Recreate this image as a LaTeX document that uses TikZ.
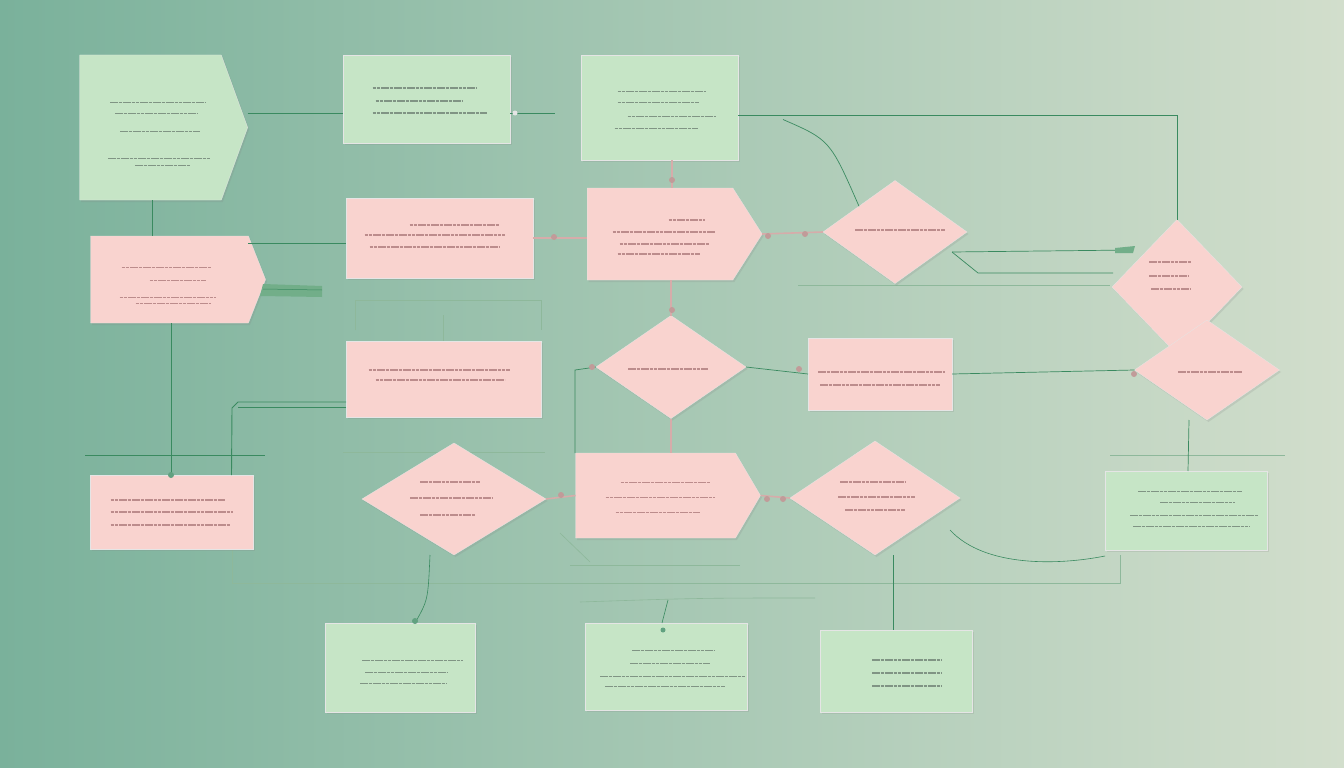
\documentclass[tikz,border=0pt]{standalone}
\usetikzlibrary{shapes.geometric,shapes.symbols,shadows,calc}
\definecolor{bgL}{RGB}{122,177,155}
\definecolor{bgR}{RGB}{210,222,204}
\definecolor{mint}{RGB}{198,229,198}
\definecolor{blush}{RGB}{249,211,207}
\definecolor{wire}{RGB}{58,138,96}
\definecolor{pwire}{RGB}{214,172,170}
\definecolor{gtxt}{RGB}{128,148,132}
\definecolor{ptxt}{RGB}{188,140,140}
\newcommand{\scrib}[4]{\foreach \yy/\aa/\bb in {#4} {\draw[#2] ($(#1.center)+({\aa+#3},\yy)$) -- ($(#1.center)+({\bb+#3},\yy)$);}}
\begin{document}
\begin{tikzpicture}[x=1pt,y=-1pt,
  card/.style={inner sep=0pt, outer sep=0pt, draw=black!10, line width=0.3pt,
     drop shadow={opacity=0.18, shadow xshift=1.5pt, shadow yshift=-2pt}},
  gbox/.style={card, fill=mint, rectangle},
  pbox/.style={card, fill=blush, rectangle},
  gsig/.style={card, fill=mint, signal, signal to=east},
  psig/.style={card, fill=blush, signal, signal to=east},
  pdia/.style={card, fill=blush, diamond},
  link/.style={draw=wire, line width=0.9pt},
  faint/.style={draw=wire!45!bgR, line width=0.6pt},
  plink/.style={draw=pwire, line width=1.6pt},
  bead/.style={circle, fill=pwire!90!black, draw=none, inner sep=0pt, minimum size=6pt},
  gbead/.style={circle, fill=wire!80, draw=none, inner sep=0pt, minimum size=6pt},
  gt/.style={draw=gtxt, line width=1.4pt, dash pattern=on 3.6pt off 0.7pt},
  pt/.style={draw=ptxt, line width=1.4pt, dash pattern=on 3.6pt off 0.7pt}]
\useasboundingbox (0,0) rectangle (1344,768);
\shade[left color=bgL, right color=bgR] (0,0) rectangle (1344,768);

% faint background guide lines
\draw[faint] (355,330) -- (355,300) -- (541,300) -- (541,330);
\draw[faint] (443,315) -- (443,341);
\draw[faint] (343,452) -- (545,452);
\draw[faint] (232,550) -- (232,583) -- (1120,583) -- (1120,555);
\draw[faint] (798,285) -- (1110,285);
\draw[faint] (1110,455) -- (1285,455);
\draw[faint] (560,533) -- (590,562);
\draw[faint] (570,565) -- (740,565);
\draw[faint] (598,208) -- (598,192) -- (672,192);
\draw[faint] (580,602) .. controls (700,598) .. (815,598);

% nodes
\node[gsig, minimum width=168pt, minimum height=145pt, signal pointer angle=140] (g1) at (150.5,127.5) {};
\node[gbox, minimum width=167pt, minimum height=88pt] (g2) at (426.5,99) {};
\node[gbox, minimum width=157pt, minimum height=105pt] (g3) at (659.5,107.5) {};
\node[psig, minimum width=175pt, minimum height=87pt, signal pointer angle=137] (p1) at (169.5,279.5) {};
\node[pbox, minimum width=187pt, minimum height=80pt] (p2) at (439.5,238) {};
\node[psig, minimum width=175pt, minimum height=92pt, signal pointer angle=115] (p3) at (660,234) {};
\node[pdia, minimum width=144pt, minimum height=103pt] (d1) at (895,232) {};
\node[pdia, minimum width=130pt, minimum height=135pt] (d5) at (1177,287) {};
\node[pdia, minimum width=145pt, minimum height=100pt] (d6) at (1207,370) {};
\node[pbox, minimum width=195pt, minimum height=76pt] (p4) at (443.5,379) {};
\node[pdia, minimum width=150pt, minimum height=103pt] (d2) at (671,367) {};
\node[pbox, minimum width=144pt, minimum height=72pt] (p5) at (880,374) {};
\node[pdia, minimum width=184pt, minimum height=112pt] (d3) at (454,499) {};
\node[psig, minimum width=185pt, minimum height=85pt, signal pointer angle=119] (p6) at (655.5,495.5) {};
\node[pdia, minimum width=170pt, minimum height=114pt] (d4) at (875,498) {};
\node[pbox, minimum width=163pt, minimum height=74pt] (p7) at (171.5,512) {};
\node[gbox, minimum width=162pt, minimum height=79pt] (g4) at (1186,510.5) {};
\node[gbox, minimum width=150pt, minimum height=89pt] (g5) at (400,667.5) {};
\node[gbox, minimum width=162pt, minimum height=87pt] (g6) at (666,666.5) {};
\node[gbox, minimum width=152pt, minimum height=82pt] (g7) at (896,671) {};

% illegible text, drawn as scribble lines
\scrib{g1}{gt}{13.5}{-25/-54/41, -14/-49/34, 4/-44/36, 31/-56/46, 38/-29/26}
\scrib{g2}{gt}{0}{-11/-54/50, 2/-51/36, 14/-54/60}
\scrib{g3}{gt}{0}{-16/-42/46, -5/-42/39, 9/-32/56, 21/-45/38}
\scrib{p1}{pt}{8}{-12/-56/33, 1/-28/28, 18/-58/38, 24/-42/33}
\scrib{p2}{pt}{0}{-13/-30/60, -3/-75/65, 9/-70/60}
\scrib{p3}{pt}{14.5}{-14/-6/30, -2/-62/40, 10/-55/35, 20/-57/25}
\scrib{d1}{pt}{0}{-2/-40/50}
\scrib{d5}{pt}{0}{-25/-28/14, -11/-28/12, 2/-26/14}
\scrib{d6}{pt}{0}{2/-29/35}
\scrib{p4}{pt}{0}{-9/-75/66, 1/-68/61}
\scrib{d2}{pt}{0}{2/-43/37}
\scrib{p5}{pt}{0}{-2/-62/65, 11/-60/60}
\scrib{d3}{pt}{0}{-17/-34/26, -1/-44/38, 16/-34/21}
\scrib{p6}{pt}{12}{-13/-47/42, 2/-62/47, 17/-52/32}
\scrib{d4}{pt}{0}{-16/-35/30, -1/-37/40, 12/-30/30}
\scrib{p7}{pt}{0}{-12/-61/53, 0/-61/61, 13/-61/58}
\scrib{g4}{gt}{0}{-19/-48/56, -8/-26/49, 5/-56/72, 16/-53/64}
\scrib{g5}{gt}{0}{-7/-38/63, 5/-35/48, 16/-40/47}
\scrib{g6}{gt}{0}{-16/-34/49, -3/-36/44, 10/-66/79, 20/-61/59}
\scrib{g7}{gt}{0}{-11/-24/46, 2/-24/46, 15/-24/46}

% connectors
\coordinate (c1) at (555,113);
\draw[link] ([yshift=14.5pt]g1.east) -- ([yshift=14.5pt]g1.east -| g2.west);
\draw[link] ([yshift=-14pt]g2.east) -- (c1);
\node[circle, fill=white!80!gray, inner sep=0pt, minimum size=5pt] (k1) at ([yshift=-14pt,xshift=5pt]g2.east) {};
\draw[link] ([yshift=-8pt]g3.east) -| (d5.north);
\draw[link, line width=0.7pt] ([xshift=45pt,yshift=-12pt]g3.east) .. controls (830,140) .. (d1.north west);
\draw[link] ([xshift=1.5pt]g1.south) -- ([xshift=1.5pt]g1.south |- p1.north);
\draw[link] ([yshift=-7pt]p1.north east) -- ([yshift=-7pt]p1.north east -| p2.west);
\fill[wire!60!mint] (263,284) -- (322,286) -- (322,297) -- (260,296) -- cycle;
\draw[wire, line width=0.5pt] (263,289) -- (322,290);
\draw[plink] (p2.east) -- (p2.east -| p3.west);
\node[bead] (b1) at (554,237) {};
\draw[plink] ([xshift=12.5pt]g3.south) -- ([xshift=12.5pt]g3.south |- p3.north);
\node[bead] (b2) at (672,180) {};
\draw[plink] (p3.east) -- (d1.west);
\node[bead] (b3) at (768,236) {};
\node[bead] (b4) at (805,234) {};
\draw[link, line width=0.7pt] (952,252) -- (1132,250);
\draw[link, line width=0.7pt] (952,252) -- (978,273) -- (1113,273);
\fill[wire!60!mint] (1115,248) -- (1135,246) -- (1133,253) -- (1115,253) -- cycle;
\draw[plink] (d2.north |- p3.south) -- (d2.north);
\node[bead] (b5) at (672,310) {};
\draw[link, line width=0.7pt] (d2.west) -- (575,370) -- (575,453);
\node[bead] (b6) at (592,367) {};
\draw[link, line width=0.7pt] (d2.east) -- (p5.west);
\node[bead] (b7) at (799,369) {};
\draw[link, line width=0.7pt] (p5.east) -- (d6.west);
\node[bead] (b8) at (1134,374) {};
\draw[link, line width=0.7pt] ([xshift=-18pt]d6.south) -- ([xshift=2pt]g4.north);
\draw[plink] (d2.south) -- (d2.south |- p6.north);
\draw[link] ([xshift=1.5pt]p1.south) -- ([xshift=1.5pt]p1.south |- p7.north);
\node[gbead] (b9) at (171,475) {};
\draw[link, line width=0.7pt] (85,455) -- (265,455);
\draw[link] (p4.west |- 0,402) -- (238,402) -- (232,408) -- ([xshift=60pt]p7.north);
\draw[link, line width=0.5pt] (p4.west |- 0,407) -- (238,407);
\draw[plink] (d3.east) -- (p6.west);
\node[bead] (b10) at (561,495) {};
\draw[plink] (p6.east) -- (d4.west);
\node[bead] (b11) at (767,499) {};
\node[bead] (b12) at (783,499) {};
\draw[link] ([xshift=18pt]d4.south) -- ([xshift=-3pt]g7.north);
\draw[link, line width=0.6pt] ([xshift=-24pt]d3.south) .. controls (428,600) .. ([xshift=15pt]g5.north);
\node[gbead] (b13) at (415,621) {};
\draw[link, line width=0.6pt] ([xshift=-4pt]g6.north) -- (668,600);
\node[gbead, minimum size=5pt] (b14) at (663,630) {};
\draw[link, line width=0.6pt] (950,530) .. controls (985,568) and (1060,565) .. ([yshift=-6pt]g4.south west);
\end{tikzpicture}
\end{document}
